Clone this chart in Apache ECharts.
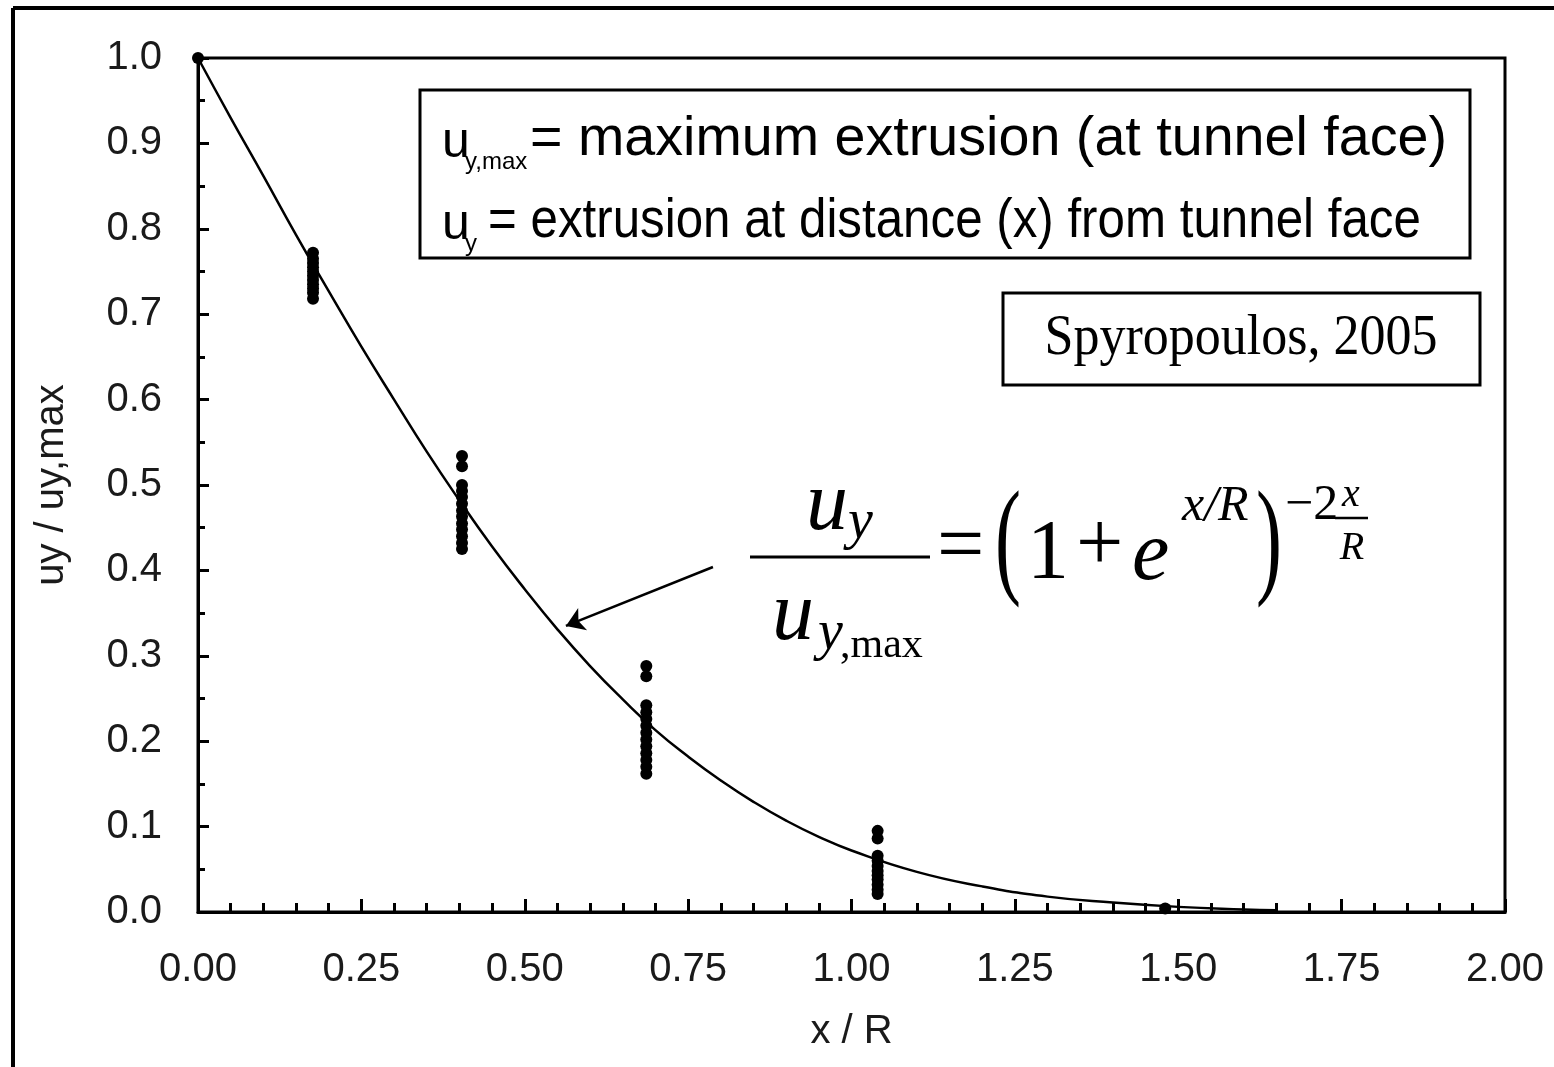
<!DOCTYPE html>
<html>
<head>
<meta charset="utf-8">
<script src="https://cdn.jsdelivr.net/npm/echarts@6/dist/echarts.min.js"></script>
<style>
  html, body { margin: 0; padding: 0; background: #fff; }
  #chart { width: 1554px; height: 1067px; }
</style>
</head>
<body>
<div id="chart"></div>
<script>
// Axis tick labels
const xTickLabels = ['0.00', '0.25', '0.50', '0.75', '1.00', '1.25', '1.50', '1.75', '2.00'];
const yTickLabels = ['0.0', '0.1', '0.2', '0.3', '0.4', '0.5', '0.6', '0.7', '0.8', '0.9', '1.0'];

// Fitted curve, read along its length (x/R, uy/uy,max)
const fitX = [0, 0.05, 0.1, 0.15, 0.2, 0.25, 0.3, 0.35, 0.4, 0.45, 0.5, 0.55, 0.6, 0.65, 0.7,
              0.75, 0.8, 0.85, 0.9, 0.95, 1.0, 1.1, 1.2, 1.3, 1.4, 1.5, 1.6, 1.65];
const fitY = [1.0, 0.93, 0.862, 0.793, 0.727, 0.662, 0.6, 0.539, 0.482, 0.428, 0.378, 0.331, 0.288, 0.249, 0.213,
              0.182, 0.154, 0.129, 0.107, 0.088, 0.072, 0.047, 0.03, 0.018, 0.011, 0.006, 0.003, 0.002];

// Measured points, grouped by distance from the face
const station1 = [0.772, 0.765, 0.76, 0.755, 0.75, 0.745, 0.74, 0.735, 0.73, 0.725, 0.718];
const station2 = [0.534, 0.522, 0.50, 0.493, 0.486, 0.478, 0.47, 0.463, 0.455, 0.448, 0.44, 0.432, 0.425];
const station3 = [0.288, 0.276, 0.242, 0.234, 0.226, 0.218, 0.21, 0.202, 0.194, 0.186, 0.178, 0.17, 0.162];
const station4 = [0.095, 0.086, 0.066, 0.06, 0.054, 0.048, 0.043, 0.038, 0.032, 0.026, 0.021];
const stationX = [0.176, 0.404, 0.686, 1.04];
const extraX = [0, 1.48];
const extraY = [1.0, 0.004];

// Arrow pointing at the curve (data coordinates)
const arrowFrom = [0.788, 0.404];
const arrowTo = [0.563, 0.335];

const measured = [];
[station1, station2, station3, station4].forEach(function (vals, i) {
  vals.forEach(function (v) { measured.push([stationX[i], v]); });
});
extraX.forEach(function (x, i) { measured.push([x, extraY[i]]); });

const fitData = fitX.map(function (x, i) { return [x, fitY[i]]; });

const SANS = '"Liberation Sans", Arial, sans-serif';
const SERIF = '"Liberation Serif", "Times New Roman", serif';

function txt(text, x, y, size, family, opts) {
  opts = opts || {};
  return {
    type: 'text',
    x: x, y: y,
    scaleX: opts.sx || 1,
    scaleY: opts.sy || 1,
    style: {
      text: text,
      x: 0, y: 0,
      font: (opts.italic ? 'italic ' : '') + size + 'px ' + family,
      fill: opts.color || '#000',
      align: opts.align || 'left',
      verticalAlign: 'middle'
    },
    z: 10
  };
}
function hline(x1, x2, y, w) {
  return { type: 'line', shape: { x1: x1, y1: y, x2: x2, y2: y }, style: { stroke: '#000', lineWidth: w || 3 }, z: 10 };
}

const chart = echarts.init(document.getElementById('chart'), null, { renderer: 'canvas' });

const axisCommon = {
  type: 'value',
  splitLine: { show: false },
  axisLine: { show: true, onZero: false, lineStyle: { color: '#000', width: 3 } },
  nameLocation: 'middle',
  nameTextStyle: { fontFamily: SANS, fontSize: 40, color: '#1a1a1a' }
};

chart.setOption({
  animation: false,
  backgroundColor: '#fff',
  grid: { left: 198, right: 49, top: 58, bottom: 155, show: true, borderColor: '#000', borderWidth: 3, backgroundColor: 'transparent' },
  xAxis: Object.assign({}, axisCommon, {
    min: 0, max: 2, interval: 0.25,
    axisTick: { show: true, inside: true, length: 13, lineStyle: { color: '#000', width: 3 } },
    minorTick: { show: true, splitNumber: 5, length: 9, lineStyle: { color: '#000', width: 3 } },
    axisLabel: {
      show: true, margin: 38, fontSize: 40, fontFamily: SANS, color: '#1a1a1a',
      showMinLabel: true, showMaxLabel: true,
      formatter: function (v) { return xTickLabels[Math.round(v / 0.25)]; }
    },
    name: 'x / R', nameGap: 100
  }),
  yAxis: Object.assign({}, axisCommon, {
    min: 0, max: 1, interval: 0.1,
    axisTick: { show: true, inside: true, length: 11, lineStyle: { color: '#000', width: 3 } },
    minorTick: { show: true, splitNumber: 2, length: 7, lineStyle: { color: '#000', width: 3 } },
    axisLabel: {
      show: true, margin: 36, fontSize: 40, fontFamily: SANS, color: '#1a1a1a',
      showMinLabel: true, showMaxLabel: true,
      formatter: function (v) { return yTickLabels[Math.round(v * 10)]; }
    },
    name: 'uy / uy,max', nameGap: 126
  }),
  series: [
    {
      type: 'line',
      data: fitData,
      smooth: true,
      showSymbol: false,
      lineStyle: { color: '#000', width: 2.5 },
      z: 3,
      markLine: {
        silent: true,
        symbol: ['none', 'arrow'],
        symbolSize: 18,
        label: { show: false },
        lineStyle: { color: '#000', width: 2.5, type: 'solid' },
        itemStyle: { color: '#000' },
        data: [[{ coord: arrowFrom }, { coord: arrowTo }]]
      }
    },
    {
      type: 'scatter',
      data: measured,
      symbol: 'circle',
      symbolSize: 12,
      itemStyle: { color: '#000', opacity: 1 },
      z: 4
    }
  ],
  graphic: [
    // page frame
    { type: 'line', shape: { x1: 13, y1: 8, x2: 13, y2: 1067 }, style: { stroke: '#000', lineWidth: 4 } },
    { type: 'line', shape: { x1: 13, y1: 8, x2: 1554, y2: 8 }, style: { stroke: '#000', lineWidth: 4 } },

    // definitions box
    { type: 'rect', shape: { x: 420, y: 90, width: 1050, height: 168 }, style: { fill: '#fff', stroke: '#000', lineWidth: 3 }, z: 9 },
    txt('u', 442, 143, 50, SANS),
    txt('y,max', 465, 162, 24, SANS),
    txt('= maximum extrusion (at tunnel face)', 530, 140, 53, SANS, { sx: 1.05, sy: 1.05 }),
    txt('u', 442, 225, 50, SANS),
    txt('y', 465, 244, 24, SANS),
    txt('= extrusion at distance (x) from tunnel face', 488, 222, 53, SANS, { sx: 0.93, sy: 1.05 }),

    // source box
    { type: 'rect', shape: { x: 1003, y: 293, width: 477, height: 92 }, style: { fill: '#fff', stroke: '#000', lineWidth: 3 }, z: 9 },
    txt('Spyropoulos, 2005', 1241, 339, 52, SERIF, { align: 'center', sy: 1.1 }),

    // fitted relation
    txt('u', 806, 507, 84, SERIF, { italic: true }),
    txt('y', 848, 523, 56, SERIF, { italic: true }),
    hline(750, 930, 557, 3),
    txt('u', 772, 617, 84, SERIF, { italic: true }),
    txt('y', 818, 634, 56, SERIF, { italic: true }),
    txt(',max', 840, 646, 42, SERIF),
    txt('=', 937, 550, 84, SERIF),
    txt('(', 995, 546, 130, SERIF, { sx: 0.6 }),
    txt('1', 1027, 556, 84, SERIF),
    txt('+', 1076, 548, 84, SERIF),
    txt('e', 1132, 557, 84, SERIF, { italic: true }),
    txt('x/R', 1182, 507, 50, SERIF, { italic: true }),
    txt(')', 1256, 546, 130, SERIF, { sx: 0.6 }),
    txt('\u22122', 1285, 506, 50, SERIF),
    txt('x', 1351, 495, 40, SERIF, { italic: true, align: 'center' }),
    hline(1335, 1368, 518, 2.5),
    txt('R', 1352, 548, 40, SERIF, { italic: true, align: 'center' })
  ]
});
</script>
</body>
</html>
